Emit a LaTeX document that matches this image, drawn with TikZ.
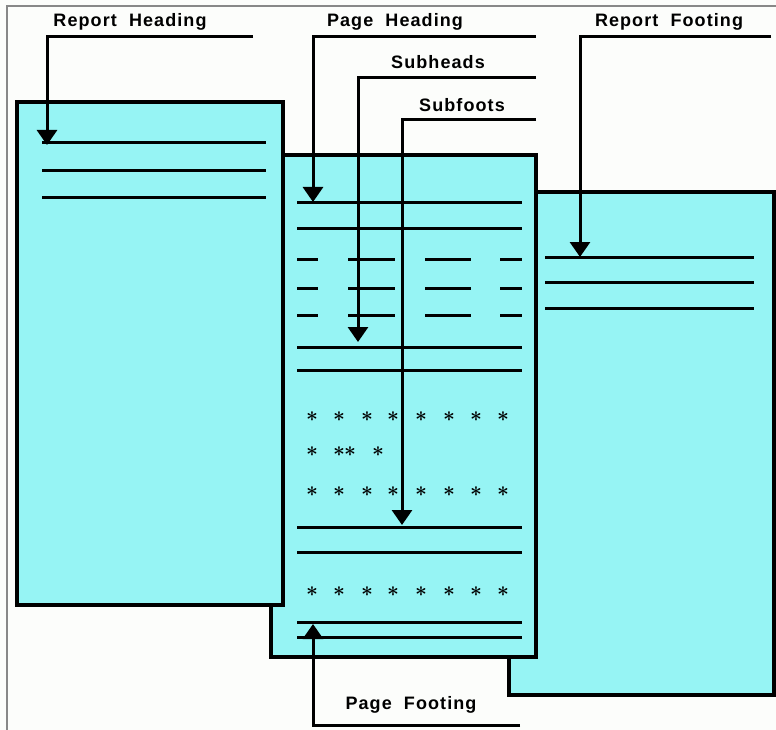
\documentclass[tikz,border=0pt]{standalone}
\usepackage{fontspec}
\setmainfont{Liberation Sans}
\usetikzlibrary{arrows.meta}
\definecolor{pagefill}{RGB}{150,244,244}
\definecolor{bgc}{RGB}{252,253,251}
\definecolor{framegray}{RGB}{136,136,136}
\tikzset{
  page/.style={draw=black,line width=3.2pt,fill=pagefill},
  rule/.style={line width=3pt,line cap=butt},
  conn/.style={line width=3pt,-{Triangle[width=20pt,length=15pt]}},
  lbl/.style={font=\fontsize{18}{20}\selectfont\bfseries\addfontfeature{LetterSpace=6},inner sep=0pt},
  ast/.style={font=\fontsize{22}{22}\selectfont\boldmath,inner sep=0pt}
}
\begin{document}
\begin{tikzpicture}[x=1pt,y=-1pt]
\fill[bgc] (0,0) rectangle (776,730);
\useasboundingbox (0,0) rectangle (776,730);
\draw[framegray,line width=2pt] (7,730) -- (7,6) -- (776,6);
% pages
\draw[page] (509,192) rectangle (774,695);
\draw[page] (271,155) rectangle (536,657);
\draw[page] (17,102) rectangle (283,605);
% left page rules
\foreach \y in {143,171,198} \draw[rule] (42,\y) -- (266,\y);
% right page rules
\foreach \y in {257,282,308} \draw[rule] (545,\y) -- (754,\y);
% middle page rules
\foreach \y in {203,228,347,370,527,552,622,637} \draw[rule] (297,\y) -- (522,\y);
\foreach \y in {259,288,315}{
  \draw[rule] (297,\y) -- (318,\y);
  \draw[rule] (348,\y) -- (395,\y);
  \draw[rule] (425,\y) -- (471,\y);
  \draw[rule] (500,\y) -- (522,\y);
}
% asterisks
\foreach \y in {417,492,592}
  \foreach \x in {312,339,367,393,421,449,476,503}
    \node[ast] at (\x,\y) {$\ast$};
\foreach \x in {312,339,350,378} \node[ast] at (\x,452) {$\ast$};
% labels
\node[lbl] (rh) at (130,22) {Report\ \ Heading};
\node[lbl] (ph) at (395,22) {Page\ \ Heading};
\node[lbl] (sh) at (438,62) {Subheads};
\node[lbl] (sf) at (462,105) {Subfoots};
\node[lbl] (rf) at (669,22) {Report\ \ Footing};
\node[lbl] (pf) at (411,705) {Page\ \ Footing};
% connector ends
\coordinate (rhE) at (253,37);  \coordinate (rhT) at (47,145);
\coordinate (phE) at (536,37);  \coordinate (phT) at (313,202);
\coordinate (shE) at (536,78);  \coordinate (shT) at (358,342);
\coordinate (sfE) at (536,120); \coordinate (sfT) at (402,525);
\coordinate (rfE) at (771,37);  \coordinate (rfT) at (580,257);
\coordinate (pfE) at (520,725); \coordinate (pfT) at (313,624);
\foreach \a in {rh,ph,sh,sf,rf,pf} \draw[conn] (\a E) -| (\a T);
\end{tikzpicture}
\end{document}
